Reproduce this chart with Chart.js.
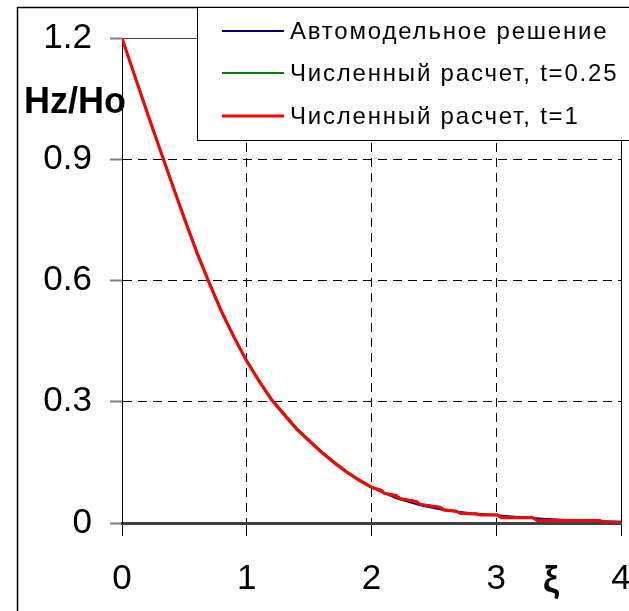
<!DOCTYPE html>
<html>
<head>
<meta charset="utf-8">
<script src="https://cdn.jsdelivr.net/npm/chart.js@4/dist/chart.umd.min.js"></script>
<style>
  body { margin: 0; background: #fff; }
  canvas { display: block; }
</style>
</head>
<body>
<canvas id="hzChart" width="629" height="611"></canvas>
<script>
// self-similar solution
const xiAuto = [0, 0.1, 0.2, 0.3, 0.4, 0.5, 0.6, 0.7, 0.8, 0.9, 1.0, 1.1, 1.2, 1.3, 1.4, 1.5, 1.6, 1.7, 1.8, 1.9, 2.0, 2.2, 2.4, 2.6, 2.8, 3.0, 3.2, 3.4, 3.6, 3.8, 4.0];
const hzAuto = [1.2, 1.108, 1.018, 0.928, 0.84, 0.753, 0.67, 0.593, 0.522, 0.458, 0.401, 0.35, 0.305, 0.268, 0.233, 0.203, 0.175, 0.149, 0.126, 0.106, 0.088, 0.061, 0.043, 0.031, 0.024, 0.019, 0.014, 0.01, 0.007, 0.005, 0.003];

// numerical runs (same grid for both times)
const xiCalc = [0, 0.1, 0.2, 0.3, 0.4, 0.5, 0.6, 0.7, 0.8, 0.9, 1.0, 1.1, 1.2, 1.3, 1.4, 1.5, 1.6, 1.7, 1.8, 1.9, 2.0, 2.08, 2.1, 2.2, 2.23, 2.36, 2.39, 2.55, 2.58, 2.68, 2.71, 2.84, 2.87, 3.01, 3.04, 3.29, 3.33, 3.83, 3.86, 4.0];
const hzCalc025 = [1.2, 1.11, 1.02, 0.931, 0.842, 0.756, 0.672, 0.596, 0.524, 0.461, 0.403, 0.353, 0.307, 0.271, 0.235, 0.206, 0.177, 0.152, 0.128, 0.108, 0.09, 0.082, 0.075, 0.069, 0.061, 0.054, 0.047, 0.04, 0.034, 0.03, 0.025, 0.023, 0.021, 0.021, 0.014, 0.014, 0.007, 0.007, 0.002, 0.002];
const hzCalc1 = [1.2, 1.108, 1.017, 0.928, 0.84, 0.753, 0.669, 0.593, 0.521, 0.458, 0.4, 0.35, 0.304, 0.268, 0.232, 0.203, 0.175, 0.149, 0.126, 0.106, 0.088, 0.08, 0.074, 0.067, 0.06, 0.053, 0.046, 0.038, 0.032, 0.029, 0.024, 0.022, 0.02, 0.02, 0.013, 0.013, 0.006, 0.006, 0.002, 0.002];

const seriesNames = ['Автомодельное решение', 'Численный расчет, t=0.25', 'Численный расчет, t=1'];
const seriesColors = ['#000080', '#008000', '#ff0000'];

const yTicks = [0, 0.3, 0.6, 0.9, 1.2];
const xTicks = [0, 1, 2, 3, 4];

function toPoints(xs, ys) {
  return xs.map((x, i) => ({ x: x, y: ys[i] }));
}

// later series are drawn on top
function lineSet(i, xs, ys, width) {
  return {
    label: seriesNames[i],
    data: toPoints(xs, ys),
    borderColor: seriesColors[i],
    backgroundColor: seriesColors[i],
    borderWidth: width,
    order: 3 - i,
    showLine: true,
    pointRadius: 0,
    tension: 0
  };
}

const DASH = [9, 6];

// white page, outer frame, legend box and axis captions
const decor = {
  id: 'decor',
  beforeDraw(chart) {
    const c = chart.ctx;
    c.save();
    c.fillStyle = '#fff';
    c.fillRect(0, 0, chart.width, chart.height);
    c.strokeStyle = '#000';
    c.lineWidth = 1.5;
    c.beginPath();
    c.moveTo(17.5, chart.height);
    c.lineTo(17.5, 7.5);
    c.lineTo(chart.width, 7.5);
    c.stroke();
    c.restore();
  },
  afterDraw(chart) {
    const c = chart.ctx;
    c.save();
    // legend
    c.fillStyle = '#fff';
    c.fillRect(197, 7, chart.width - 197, 133);
    c.strokeStyle = '#000';
    c.lineWidth = 1;
    c.strokeRect(197.5, 7.5, chart.width, 133);
    const rows = [31, 73, 116];
    c.font = '24px Arial';
    c.letterSpacing = '1.8px';
    c.textBaseline = 'middle';
    chart.data.datasets.forEach((ds, i) => {
      c.strokeStyle = ds.borderColor;
      c.lineWidth = ds.borderWidth;
      c.beginPath();
      c.moveTo(222, rows[i]);
      c.lineTo(284, rows[i]);
      c.stroke();
      c.fillStyle = '#000';
      c.fillText(ds.label, 290, rows[i] + 1);
    });
    c.letterSpacing = '0px';
    // axis captions
    c.font = 'bold 36px Arial';
    c.textBaseline = 'alphabetic';
    c.textAlign = 'left';
    c.fillText('Hz/Ho', 24, 113);
    c.textAlign = 'center';
    c.fillText('ξ', 551, 592);
    c.restore();
  }
};

const chart = new Chart('hzChart', {
  type: 'scatter',
  data: {
    datasets: [
      lineSet(0, xiAuto, hzAuto, 2),
      lineSet(1, xiCalc, hzCalc025, 2),
      lineSet(2, xiCalc, hzCalc1, 3)
    ]
  },
  options: {
    responsive: false,
    animation: false,
    layout: { padding: { left: 0, top: 38, right: 8, bottom: 0 } },
    plugins: {
      legend: { display: false },
      tooltip: { enabled: false }
    },
    scales: {
      x: {
        type: 'linear',
        min: 0,
        max: 4,
        afterBuildTicks(s) { s.ticks = xTicks.map(v => ({ value: v })); },
        afterFit(s) { s.height = 88; s.paddingLeft = 0; s.paddingRight = 0; },
        ticks: {
          color: '#000',
          font: { family: 'Arial', size: 35 },
          padding: 22,
          maxRotation: 0,
          callback: v => String(v)
        },
        grid: {
          color: ctx => ctx.tick && ctx.tick.value === 0 ? 'rgba(0,0,0,0)' : '#000',
          lineWidth: 1,
          tickLength: 13,
          tickColor: '#000',
          tickWidth: 1
        },
        border: {
          color: '#404040',
          width: 3,
          dash: ctx => ctx.tick && ctx.tick.value > 0 && ctx.tick.value < 4 ? DASH : []
        }
      },
      y: {
        type: 'linear',
        min: 0,
        max: 1.2,
        afterBuildTicks(s) { s.ticks = yTicks.map(v => ({ value: v })); },
        afterFit(s) { s.width = 122; s.paddingTop = 0; s.paddingBottom = 0; },
        ticks: {
          color: '#000',
          font: { family: 'Arial', size: 35 },
          padding: 18,
          callback: v => String(+v.toFixed(1))
        },
        grid: {
          color: ctx => {
            if (!ctx.tick) return '#000';
            if (ctx.tick.value === 0) return 'rgba(0,0,0,0)';
            if (ctx.tick.value === 1.2) return '#404040';
            return '#000';
          },
          lineWidth: 1,
          tickLength: 12,
          tickColor: '#808080',
          tickWidth: 2
        },
        border: {
          color: '#000',
          width: 1,
          dash: ctx => ctx.tick && ctx.tick.value > 0 && ctx.tick.value < 1.2 ? DASH : []
        }
      }
    }
  },
  plugins: [decor]
});
</script>
</body>
</html>
